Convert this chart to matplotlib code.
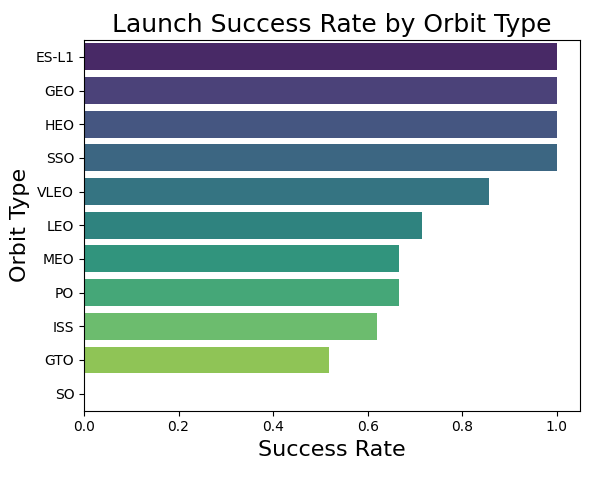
import matplotlib
matplotlib.use("Agg")
import matplotlib.pyplot as plt
import seaborn as sns
import pandas as pd

orbits = ["ES-L1", "GEO", "HEO", "SSO", "VLEO", "LEO", "MEO", "PO", "ISS", "GTO", "SO"]
success_rate = [1.0, 1.0, 1.0, 1.0, 0.857, 0.714, 0.667, 0.667, 0.619, 0.519, 0.0]

df = pd.DataFrame({"Orbit": orbits, "Class": success_rate})

fig = plt.figure(figsize=(5.99, 4.79), dpi=100)
ax = fig.add_axes([0.1402, 0.143, 0.8289, 0.7735])
sns.barplot(data=df, x="Class", y="Orbit", hue="Orbit", palette="viridis",
            legend=False, ax=ax)
ax.set_title("Launch Success Rate by Orbit Type", fontsize=18)
ax.set_xlabel("Success Rate", fontsize=16)
ax.set_ylabel("Orbit Type", fontsize=16)

fig.savefig("out.png", dpi=100)
